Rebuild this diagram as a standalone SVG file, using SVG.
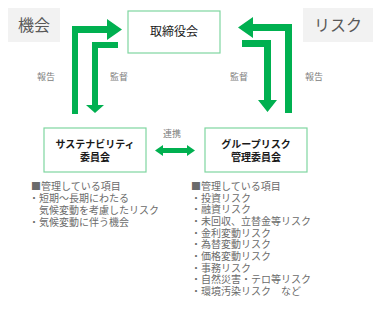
<svg xmlns="http://www.w3.org/2000/svg" width="383" height="312" viewBox="0 0 383 312">
<style>
.bg{fill:#ffffff}
.tag{fill:#f2f2f2}
.tagt{font-family:"Noto Sans CJK JP",sans-serif;font-size:16px;fill:#595959;text-anchor:middle}
.box{fill:#ffffff;stroke:#7fd6a0;stroke-width:1.2}
.bt{font-family:"Noto Sans CJK JP",sans-serif;fill:#1a1a1a;text-anchor:middle}
.arr{fill:#00b050}
.lbl{font-family:"Noto Sans CJK JP",sans-serif;font-size:9px;fill:#808080;text-anchor:middle}
.lst{font-family:"Noto Sans CJK JP",sans-serif;font-size:10px;fill:#6b6b6b}
</style>
<rect class="bg" x="0" y="0" width="383" height="312"/>
<g id="tag-opportunity">
<rect class="tag" x="8" y="8" width="52" height="34"/>
<text class="tagt" x="34" y="31">機会</text>
</g>
<g id="tag-risk">
<rect class="tag" x="303" y="8" width="70" height="34"/>
<text class="tagt" x="338" y="31">リスク</text>
</g>
<g id="board">
<rect class="box" x="128" y="11" width="92" height="42"/>
<text class="bt" x="174" y="36" font-size="12">取締役会</text>
</g>
<g id="sustainability">
<rect class="box" x="44" y="128" width="102" height="44"/>
<text class="bt" font-size="10" font-weight="bold"><tspan x="95" y="148">サステナビリティ</tspan><tspan x="95" y="161">委員会</tspan></text>
</g>
<g id="grouprisk">
<rect class="box" x="205" y="128" width="102" height="44"/>
<text class="bt" font-size="10" font-weight="bold"><tspan x="256" y="148">グループリスク</tspan><tspan x="256" y="161">管理委員会</tspan></text>
</g>
<g id="connectors">
<polygon class="arr" points="72,114 72,26 107,26 107,19 122,29.5 107,40 107,33 78,33 78,114"/>
<polygon class="arr" points="118,42 118,48 98,48 98,105 104,105 95,113 86,105 92,105 92,42"/>
<polygon class="arr" points="292,113 292,24 253,24 253,17 238,27.5 253,38 253,31 285,31 285,113"/>
<polygon class="arr" points="242,40 271,40 271,100 277,100 267.5,112 258,100 264,100 264,47 242,47"/>
<polygon class="arr" points="155,150.5 163,145 163,148 187,148 187,145 195,150.5 187,156 187,153 163,153 163,156"/>
<text class="lbl" x="46" y="80">報告</text>
<text class="lbl" x="119" y="80">監督</text>
<text class="lbl" x="239" y="80">監督</text>
<text class="lbl" x="314" y="80">報告</text>
<text class="lbl" x="172" y="137">連携</text>
</g>
<g id="list-left">
<text class="lst"><tspan x="31" y="190">■管理している項目</tspan><tspan x="29" y="202">・短期～長期にわたる</tspan><tspan x="39" y="214">気候変動を考慮したリスク</tspan><tspan x="29" y="226">・気候変動に伴う機会</tspan></text>
</g>
<g id="list-right">
<text class="lst"><tspan x="191" y="190">■管理している項目</tspan><tspan x="191" y="201.5">・投資リスク</tspan><tspan x="191" y="213">・融資リスク</tspan><tspan x="191" y="225">・未回収、立替金等リスク</tspan><tspan x="191" y="236.5">・金利変動リスク</tspan><tspan x="191" y="248">・為替変動リスク</tspan><tspan x="191" y="260">・価格変動リスク</tspan><tspan x="191" y="271.5">・事務リスク</tspan><tspan x="191" y="283">・自然災害・テロ等リスク</tspan><tspan x="191" y="295">・環境汚染リスク　など</tspan></text>
</g>
</svg>
